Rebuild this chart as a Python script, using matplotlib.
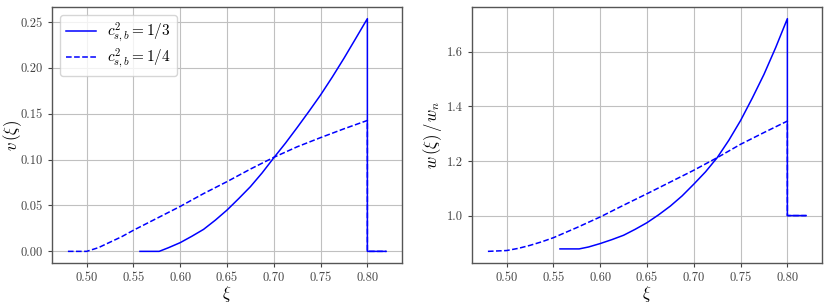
import matplotlib
matplotlib.use("Agg")
import matplotlib.pyplot as plt

plt.rcParams['font.family'] = 'serif'
plt.rcParams['font.serif'] = ['cmr10', 'DejaVu Serif']
plt.rcParams['mathtext.fontset'] = 'cm'
plt.rcParams['axes.formatter.use_mathtext'] = True

# Solid: c_{s,b}^2 = 1/3
xi_a = [0.557, 0.5775, 0.5875, 0.600, 0.6125, 0.625, 0.6375, 0.650, 0.6625, 0.675, 0.6875,
        0.700, 0.7125, 0.725, 0.7375, 0.750, 0.7625, 0.775, 0.7875, 0.800, 0.800, 0.820]
v_a = [0.0, 0.0, 0.004, 0.0095, 0.0165, 0.024, 0.034, 0.045, 0.0575, 0.0705, 0.0855,
       0.102, 0.118, 0.135, 0.1525, 0.1705, 0.190, 0.2105, 0.232, 0.2537, 0.0, 0.0]
w_a = [0.878, 0.878, 0.885, 0.8976, 0.912, 0.928, 0.950, 0.974, 1.003, 1.035, 1.072,
       1.115, 1.160, 1.212, 1.276, 1.348, 1.430, 1.517, 1.615, 1.721, 1.0, 1.0]

# Dashed: c_{s,b}^2 = 1/4
xi_b = [0.480, 0.500, 0.5125, 0.525, 0.5375, 0.550, 0.575, 0.600, 0.625, 0.650, 0.675,
        0.700, 0.725, 0.750, 0.775, 0.800, 0.800, 0.820]
v_b = [0.0, 0.0, 0.004, 0.010, 0.016, 0.023, 0.036, 0.049, 0.063, 0.076, 0.0897,
       0.1025, 0.114, 0.124, 0.1336, 0.1427, 0.0, 0.0]
w_b = [0.869, 0.872, 0.880, 0.891, 0.904, 0.919, 0.956, 0.995, 1.038, 1.080, 1.123,
       1.166, 1.212, 1.261, 1.304, 1.346, 1.0, 1.0]

labels = [r'$c_{s,b}^2 = 1/3$', r'$c_{s,b}^2 = 1/4$']

fig = plt.figure(figsize=(8.31, 3.03), dpi=100)
ax1 = fig.add_axes([52/831, 40/303, 350/831, 256/303])
ax2 = fig.add_axes([472/831, 40/303, 350/831, 256/303])

for ax, ya, yb in [(ax1, v_a, v_b), (ax2, w_a, w_b)]:
    ax.plot(xi_a, ya, color='blue', lw=1.1, ls='-', label=labels[0])
    ax.plot(xi_b, yb, color='blue', lw=1.1, ls='--', label=labels[1])
    ax.grid(True, color='#c0c0c0', lw=0.8)
    ax.set_axisbelow(True)
    for s in ax.spines.values():
        s.set_color('#555555')
        s.set_linewidth(1.0)
    ax.tick_params(colors='#444444', labelsize=9, length=3)
    ax.set_xticks([0.50, 0.55, 0.60, 0.65, 0.70, 0.75, 0.80])
    ax.set_xticklabels(['0.50', '0.55', '0.60', '0.65', '0.70', '0.75', '0.80'])
    ax.set_xlabel(r'$\xi$', fontsize=12, labelpad=0)

ax1.set_yticks([0.00, 0.05, 0.10, 0.15, 0.20, 0.25])
ax1.set_yticklabels(['0.00', '0.05', '0.10', '0.15', '0.20', '0.25'])
ax1.set_ylabel(r'$v\,(\xi)$', fontsize=12)
ax1.yaxis.set_label_coords(-0.08, 0.5)
ax2.set_yticks([1.0, 1.2, 1.4, 1.6])
ax2.set_yticklabels(['1.0', '1.2', '1.4', '1.6'])
ax2.set_ylabel(r'$w\,(\xi)\,/\,w_n$', fontsize=12)
ax2.yaxis.set_label_coords(-0.08, 0.5)

ax1.legend(loc='upper left', fontsize=11, handlelength=2.0, handletextpad=0.7,
           labelspacing=0.15, framealpha=0.8)

fig.savefig('out.png', dpi=100)
